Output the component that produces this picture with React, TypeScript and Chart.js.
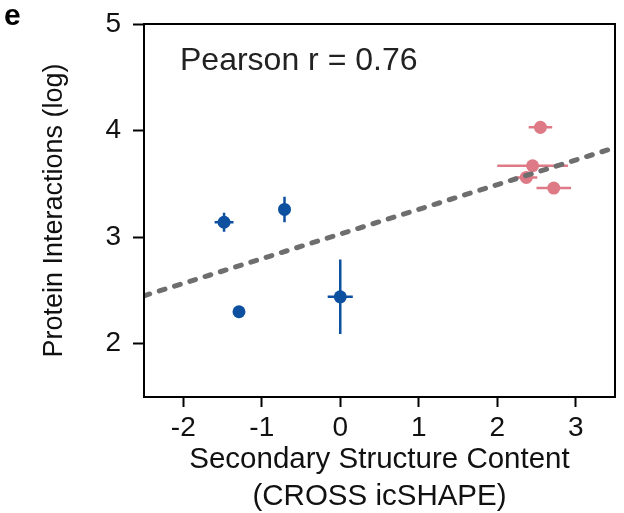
import { useEffect, useRef } from "react";
import { Chart, registerables } from "chart.js";

Chart.register(...registerables);

const FONT = "'Liberation Sans', Arial, Helvetica, sans-serif";

// Low-structure transcripts (blue)
const blueX = [-1.48, -1.29, -0.71, 0.0];
const blueY = [3.14, 2.3, 3.26, 2.44];
const blueXErr = [0.12, 0.05, 0.06, 0.16];
const blueYErr = [0.09, 0.05, 0.12, 0.35];

// High-structure transcripts (pink)
const pinkX = [2.55, 2.45, 2.37, 2.72];
const pinkY = [4.03, 3.67, 3.56, 3.46];
const pinkXErr = [0.15, 0.45, 0.14, 0.22];
const pinkYErr = [0.06, 0.04, 0.04, 0.04];

// Linear fit endpoints
const fitX = [-2.5, 3.5];
const fitY = [2.45, 3.84];

const xTicks = [-2, -1, 0, 1, 2, 3];
const yTicks = [2, 3, 4, 5];

const pearsonLabel = "Pearson r = 0.76";
const panelLabel = "e";

const BLUE = "rgb(14,80,160)";
const PINK = "rgb(222,122,134)";
const GREY = "rgb(110,110,110)";

const errorBars = {
  id: "errorBars",
  beforeDatasetsDraw(chart: any) {
    const { ctx, scales } = chart;
    const xs = scales.x;
    const ys = scales.y;
    chart.data.datasets.forEach((ds: any) => {
      if (!ds.xErr) return;
      ctx.save();
      ctx.strokeStyle = ds.backgroundColor;
      ctx.lineWidth = 2.5;
      ds.data.forEach((p: any, i: number) => {
        const cx = xs.getPixelForValue(p.x);
        const cy = ys.getPixelForValue(p.y);
        const x0 = xs.getPixelForValue(p.x - ds.xErr[i]);
        const x1 = xs.getPixelForValue(p.x + ds.xErr[i]);
        const y0 = ys.getPixelForValue(p.y - ds.yErr[i]);
        const y1 = ys.getPixelForValue(p.y + ds.yErr[i]);
        ctx.beginPath();
        ctx.moveTo(x0, cy);
        ctx.lineTo(x1, cy);
        ctx.moveTo(cx, y0);
        ctx.lineTo(cx, y1);
        ctx.stroke();
      });
      ctx.restore();
    });
  },
};

const frameAndText = {
  id: "frameAndText",
  afterDraw(chart: any) {
    const { ctx, chartArea } = chart;
    const { left, top, right, bottom } = chartArea;
    ctx.save();
    ctx.strokeStyle = "#000";
    ctx.lineWidth = 2;
    ctx.strokeRect(left, top, right - left, bottom - top);

    ctx.fillStyle = "#222";
    ctx.font = `32px ${FONT}`;
    ctx.textBaseline = "alphabetic";
    ctx.textAlign = "left";
    ctx.fillText(pearsonLabel, left + 36, top + 46);

    ctx.fillStyle = "#000";
    ctx.font = `bold 30px ${FONT}`;
    ctx.fillText(panelLabel, 4, 25);
    ctx.restore();
  },
};

export default function App() {
  const ref = useRef<HTMLCanvasElement>(null);

  useEffect(() => {
    if (!ref.current) return;
    const chart = new Chart(ref.current, {
      type: "scatter",
      data: {
        datasets: [
          {
            type: "line",
            data: fitX.map((x, i) => ({ x, y: fitY[i] })),
            borderColor: GREY,
            borderWidth: 5,
            borderDash: [6, 10],
            borderCapStyle: "round",
            pointRadius: 0,
            fill: false,
            order: 0,
          } as any,
          {
            data: blueX.map((x, i) => ({ x, y: blueY[i] })),
            backgroundColor: BLUE,
            borderColor: BLUE,
            pointRadius: 6.5,
            pointBorderWidth: 0,
            xErr: blueXErr,
            yErr: blueYErr,
            order: 1,
          } as any,
          {
            data: pinkX.map((x, i) => ({ x, y: pinkY[i] })),
            backgroundColor: PINK,
            borderColor: PINK,
            pointRadius: 6.5,
            pointBorderWidth: 0,
            xErr: pinkXErr,
            yErr: pinkYErr,
            order: 2,
          } as any,
        ],
      },
      options: {
        responsive: false,
        animation: false,
        layout: { padding: { top: 24, right: 9, left: 0, bottom: 0 } },
        plugins: {
          legend: { display: false },
          tooltip: { enabled: false },
        },
        scales: {
          x: {
            type: "linear",
            min: -2.5,
            max: 3.5,
            afterBuildTicks: (s: any) => {
              s.ticks = xTicks.map((v) => ({ value: v }));
            },
            afterFit: (s: any) => {
              s.height = 116;
            },
            border: { display: false },
            grid: {
              drawOnChartArea: false,
              drawTicks: true,
              tickLength: 10,
              tickColor: "#000",
              tickWidth: 2,
            },
            ticks: {
              color: "#111",
              padding: 4,
              font: { family: FONT, size: 28 },
              callback: (v: any) => String(v),
            },
            title: {
              display: true,
              text: ["Secondary Structure Content", "(CROSS icSHAPE)"],
              color: "#111",
              font: { family: FONT, size: 29.5, lineHeight: 1.24 },
              padding: { top: 0, bottom: -2 },
            },
          },
          y: {
            type: "linear",
            min: 1.5,
            max: 5,
            afterBuildTicks: (s: any) => {
              s.ticks = yTicks.map((v) => ({ value: v }));
            },
            afterFit: (s: any) => {
              s.width = 144;
              s.paddingTop = 0;
              s.paddingBottom = 0;
            },
            border: { display: false },
            grid: {
              drawOnChartArea: false,
              drawTicks: true,
              tickLength: 11,
              tickColor: "#000",
              tickWidth: 2,
            },
            ticks: {
              color: "#111",
              padding: 12,
              font: { family: FONT, size: 28, lineHeight: 1 },
              callback: (v: any) => String(v),
            },
            title: {
              display: true,
              text: "Protein Interactions (log)",
              color: "#111",
              font: { family: FONT, size: 27, lineHeight: 1.2 },
              padding: { top: 38, bottom: 0 },
            },
          },
        },
      },
      plugins: [errorBars, frameAndText],
    } as any);
    return () => chart.destroy();
  }, []);

  return (
    <div style={{ position: "fixed", left: 0, top: 0, width: 624, height: 513 }}>
      <canvas ref={ref} width={624} height={513} />
    </div>
  );
}
